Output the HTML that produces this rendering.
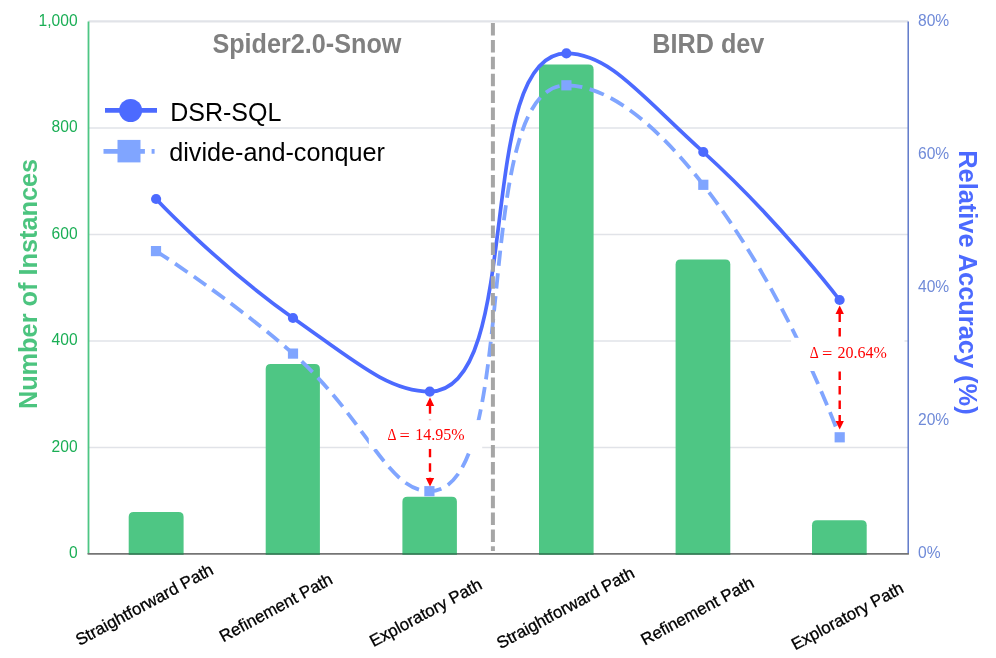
<!DOCTYPE html>
<html><head><meta charset="utf-8"><title>Chart</title>
<style>html,body{margin:0;padding:0;background:#fff;}body{width:996px;height:658px;overflow:hidden;}svg{display:block;}</style>
</head><body>
<svg width="996" height="658" viewBox="0 0 996 658">
<rect width="996" height="658" fill="#fff"/>
<line x1="88.5" y1="447.40" x2="908.2" y2="447.40" stroke="#E1E3E8" stroke-width="1.5"/>
<line x1="88.5" y1="340.90" x2="908.2" y2="340.90" stroke="#E1E3E8" stroke-width="1.5"/>
<line x1="88.5" y1="234.40" x2="908.2" y2="234.40" stroke="#E1E3E8" stroke-width="1.5"/>
<line x1="88.5" y1="127.90" x2="908.2" y2="127.90" stroke="#E1E3E8" stroke-width="1.5"/>
<line x1="88.5" y1="21.40" x2="908.2" y2="21.40" stroke="#E1E3E8" stroke-width="2.1"/>
<path d="M128.7,553.9 V516.9 Q128.7,511.9 133.7,511.9 H178.6 Q183.6,511.9 183.6,516.9 V553.9 Z" fill="#4EC684"/>
<path d="M265.7,553.9 V369.1 Q265.7,364.1 270.7,364.1 H314.9 Q319.9,364.1 319.9,369.1 V553.9 Z" fill="#4EC684"/>
<path d="M402.4,553.9 V501.8 Q402.4,496.8 407.4,496.8 H451.9 Q456.9,496.8 456.9,501.8 V553.9 Z" fill="#4EC684"/>
<path d="M539.0,553.9 V69.6 Q539.0,64.6 544.0,64.6 H588.6 Q593.6,64.6 593.6,69.6 V553.9 Z" fill="#4EC684"/>
<path d="M675.6,553.9 V264.5 Q675.6,259.5 680.6,259.5 H725.3 Q730.3,259.5 730.3,264.5 V553.9 Z" fill="#4EC684"/>
<path d="M812.0,553.9 V525.2 Q812.0,520.2 817.0,520.2 H861.7 Q866.7,520.2 866.7,525.2 V553.9 Z" fill="#4EC684"/>
<line x1="88.5" y1="21.4" x2="88.5" y2="553.9" stroke="#4EC684" stroke-width="1.8"/>
<line x1="908.2" y1="21.4" x2="908.2" y2="553.9" stroke="#5470C6" stroke-width="1.4"/>
<line x1="87.6" y1="553.9" x2="908.9000000000001" y2="553.9" stroke="#757575" stroke-width="1.8"/>
<line x1="128.7" y1="553.9" x2="183.6" y2="553.9" stroke="#34865A" stroke-width="1.8"/>
<line x1="265.7" y1="553.9" x2="319.9" y2="553.9" stroke="#34865A" stroke-width="1.8"/>
<line x1="402.4" y1="553.9" x2="456.9" y2="553.9" stroke="#34865A" stroke-width="1.8"/>
<line x1="539.0" y1="553.9" x2="593.6" y2="553.9" stroke="#34865A" stroke-width="1.8"/>
<line x1="675.6" y1="553.9" x2="730.3" y2="553.9" stroke="#34865A" stroke-width="1.8"/>
<line x1="812.0" y1="553.9" x2="866.7" y2="553.9" stroke="#34865A" stroke-width="1.8"/>
<text transform="translate(77.6,558.30) scale(1,1.05)" text-anchor="end" font-family='"Liberation Sans", Arial, Helvetica, sans-serif' font-size="15.6" fill="#1AAE55">0</text>
<text transform="translate(77.6,451.80) scale(1,1.05)" text-anchor="end" font-family='"Liberation Sans", Arial, Helvetica, sans-serif' font-size="15.6" fill="#1AAE55">200</text>
<text transform="translate(77.6,345.30) scale(1,1.05)" text-anchor="end" font-family='"Liberation Sans", Arial, Helvetica, sans-serif' font-size="15.6" fill="#1AAE55">400</text>
<text transform="translate(77.6,238.80) scale(1,1.05)" text-anchor="end" font-family='"Liberation Sans", Arial, Helvetica, sans-serif' font-size="15.6" fill="#1AAE55">600</text>
<text transform="translate(77.6,132.30) scale(1,1.05)" text-anchor="end" font-family='"Liberation Sans", Arial, Helvetica, sans-serif' font-size="15.6" fill="#1AAE55">800</text>
<text transform="translate(77.6,25.80) scale(1,1.05)" text-anchor="end" font-family='"Liberation Sans", Arial, Helvetica, sans-serif' font-size="15.6" fill="#1AAE55">1,000</text>
<text transform="translate(918.0,558.30) scale(1,1.05)" font-family='"Liberation Sans", Arial, Helvetica, sans-serif' font-size="15.6" fill="#6F8AD8">0%</text>
<text transform="translate(918.0,425.17) scale(1,1.05)" font-family='"Liberation Sans", Arial, Helvetica, sans-serif' font-size="15.6" fill="#6F8AD8">20%</text>
<text transform="translate(918.0,292.05) scale(1,1.05)" font-family='"Liberation Sans", Arial, Helvetica, sans-serif' font-size="15.6" fill="#6F8AD8">40%</text>
<text transform="translate(918.0,158.92) scale(1,1.05)" font-family='"Liberation Sans", Arial, Helvetica, sans-serif' font-size="15.6" fill="#6F8AD8">60%</text>
<text transform="translate(918.0,25.80) scale(1,1.05)" font-family='"Liberation Sans", Arial, Helvetica, sans-serif' font-size="15.6" fill="#6F8AD8">80%</text>
<text transform="translate(36.8,284.0) rotate(-90)" text-anchor="middle" font-family='"Liberation Sans", Arial, Helvetica, sans-serif' font-size="25.3" font-weight="bold" fill="#4CC47F">Number of Instances</text>
<text transform="translate(959.3,282.4) rotate(90)" text-anchor="middle" font-family='"Liberation Sans", Arial, Helvetica, sans-serif' font-size="25.4" font-weight="bold" fill="#4C6AFF">Relative Accuracy (%)</text>
<text transform="translate(212.4,53.1) scale(1,1.08)" font-family='"Liberation Sans", Arial, Helvetica, sans-serif' font-size="25.2" font-weight="bold" fill="#808080">Spider2.0-Snow</text>
<text transform="translate(652.3,53.1) scale(1,1.08)" font-family='"Liberation Sans", Arial, Helvetica, sans-serif' font-size="25.2" font-weight="bold" fill="#808080">BIRD dev</text>
<line x1="105" y1="110.4" x2="157" y2="110.4" stroke="#4C6AFF" stroke-width="4.6"/>
<circle cx="130.6" cy="110.5" r="11.5" fill="#4C6AFF"/>
<line x1="103.5" y1="151.4" x2="154.6" y2="151.4" stroke="#80A5FF" stroke-width="4.6" stroke-dasharray="41.4 6.7 3"/>
<rect x="117.5" y="139.9" width="23" height="22.5" fill="#80A5FF"/>
<text x="170.2" y="121" font-family='"Liberation Sans", Arial, Helvetica, sans-serif' font-size="25" fill="#000">DSR-SQL</text>
<text x="169.2" y="161.4" font-family='"Liberation Sans", Arial, Helvetica, sans-serif' font-size="25.2" fill="#000">divide-and-conquer</text>
<path d="M156.00,251.10 C156.00,251.10 228.89,297.30 293.00,353.60 C365.59,417.35 386.83,491.20 429.40,491.20 C523.53,491.20 468.23,85.30 566.40,85.30 C605.18,85.30 652.61,119.51 703.30,184.80 C789.26,295.51 839.70,437.30 839.70,437.30" fill="none" stroke="#80A5FF" stroke-width="3.8" stroke-dasharray="15.24 7.62"/>
<path d="M156.10,199.00 C156.10,199.00 219.28,266.13 293.00,318.00 C356.13,362.43 388.97,391.60 429.80,391.60 C525.67,391.60 472.90,53.40 566.40,53.40 C609.65,53.40 641.00,95.76 703.30,152.00 C777.60,219.06 839.60,300.00 839.60,300.00" fill="none" stroke="#4C6AFF" stroke-width="3.7"/>
<circle cx="156.1" cy="199.0" r="5.1" fill="#4C6AFF"/>
<circle cx="293.0" cy="318.0" r="5.1" fill="#4C6AFF"/>
<circle cx="429.8" cy="391.6" r="5.1" fill="#4C6AFF"/>
<circle cx="566.4" cy="53.4" r="5.1" fill="#4C6AFF"/>
<circle cx="703.3" cy="152.0" r="5.1" fill="#4C6AFF"/>
<circle cx="839.6" cy="300.0" r="5.1" fill="#4C6AFF"/>
<rect x="150.9" y="246.0" width="10.2" height="10.2" fill="#80A5FF"/>
<rect x="287.9" y="348.5" width="10.2" height="10.2" fill="#80A5FF"/>
<rect x="424.29999999999995" y="486.09999999999997" width="10.2" height="10.2" fill="#80A5FF"/>
<rect x="561.3" y="80.2" width="10.2" height="10.2" fill="#80A5FF"/>
<rect x="698.1999999999999" y="179.70000000000002" width="10.2" height="10.2" fill="#80A5FF"/>
<rect x="834.6" y="432.2" width="10.2" height="10.2" fill="#80A5FF"/>
<line x1="492.9" y1="23" x2="492.9" y2="551" stroke="#A6A6A6" stroke-width="4" stroke-dasharray="12.5 4.38"/>
<line x1="430.0" y1="405.3" x2="430.0" y2="478.5" stroke="#FF0000" stroke-width="2.4" stroke-dasharray="8.5 6" stroke-dashoffset="0"/><polygon points="430.0,397.3 425.8,405.90000000000003 434.2,405.90000000000003" fill="#FF0000"/><polygon points="430.0,486.5 425.8,477.9 434.2,477.9" fill="#FF0000"/>
<line x1="839.7" y1="313.5" x2="839.7" y2="421.5" stroke="#FF0000" stroke-width="2.4" stroke-dasharray="8.5 6" stroke-dashoffset="0"/><polygon points="839.7,305.5 835.5,314.1 843.9000000000001,314.1" fill="#FF0000"/><polygon points="839.7,429.5 835.5,420.9 843.9000000000001,420.9" fill="#FF0000"/>
<rect x="368.8" y="420.1" width="113.4" height="28.8" fill="#fff"/>
<rect x="791.1" y="337.8" width="113.4" height="33.2" fill="#fff"/>
<text transform="translate(387.40,439.7) scale(0.86,1)" font-family='"Liberation Serif", "DejaVu Serif", serif' font-size="16.2" fill="#FF0000">Δ</text><text transform="translate(399.60,440.60) scale(1.13,1)" font-family='"Liberation Serif", "DejaVu Serif", serif' font-size="16.2" fill="#FF0000">=</text><text x="415.20" y="439.7" font-family='"Liberation Serif", "DejaVu Serif", serif' font-size="16.0" fill="#FF0000">14.95%</text>
<text transform="translate(809.80,357.9) scale(0.86,1)" font-family='"Liberation Serif", "DejaVu Serif", serif' font-size="16.2" fill="#FF0000">Δ</text><text transform="translate(822.00,358.80) scale(1.13,1)" font-family='"Liberation Serif", "DejaVu Serif", serif' font-size="16.2" fill="#FF0000">=</text><text x="837.60" y="357.9" font-family='"Liberation Serif", "DejaVu Serif", serif' font-size="16.0" fill="#FF0000">20.64%</text>
<text transform="translate(79.4,646.0) rotate(-28.3)" font-family='"Liberation Sans", Arial, Helvetica, sans-serif' font-size="16.85" fill="#000" stroke="#000" stroke-width="0.3">Straightforward Path</text>
<text transform="translate(223.3,642.4) rotate(-28.3)" font-family='"Liberation Sans", Arial, Helvetica, sans-serif' font-size="16.85" fill="#000" stroke="#000" stroke-width="0.3">Refinement Path</text>
<text transform="translate(373.6,647.2) rotate(-28.3)" font-family='"Liberation Sans", Arial, Helvetica, sans-serif' font-size="16.85" fill="#000" stroke="#000" stroke-width="0.3">Exploratory Path</text>
<text transform="translate(500.5,649.3) rotate(-28.3)" font-family='"Liberation Sans", Arial, Helvetica, sans-serif' font-size="16.85" fill="#000" stroke="#000" stroke-width="0.3">Straightforward Path</text>
<text transform="translate(644.7,645.8) rotate(-28.3)" font-family='"Liberation Sans", Arial, Helvetica, sans-serif' font-size="16.85" fill="#000" stroke="#000" stroke-width="0.3">Refinement Path</text>
<text transform="translate(795.2,650.6) rotate(-28.3)" font-family='"Liberation Sans", Arial, Helvetica, sans-serif' font-size="16.85" fill="#000" stroke="#000" stroke-width="0.3">Exploratory Path</text>
</svg>
</body></html>
